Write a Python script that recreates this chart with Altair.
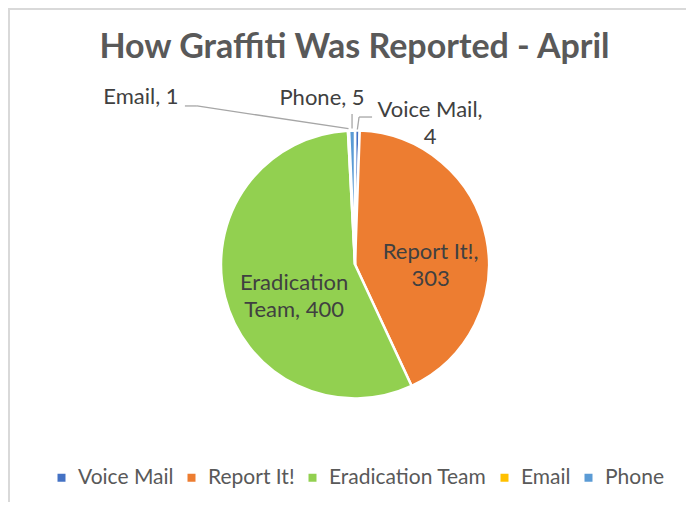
import altair as alt
import pandas as pd

categories = ["Voice Mail", "Report It!", "Eradication Team", "Email", "Phone"]
counts = [4, 303, 400, 1, 5]
labels = ["Voice Mail,\n4", "Report It!,\n303", "Eradication\nTeam, 400", "Email, 1", "Phone, 5"]
colors = ["#4472C4", "#ED7D31", "#92D050", "#FFC000", "#5B9BD5"]
title_text = "How Graffiti Was Reported - April"

W, H = 678, 494
CX, CY, R = 347, 256.5, 134
FONT = "Lato"
TXT = "#595959"
LBL = "#404040"
LINE = "#A6A6A6"
FS = 22
LH = 27

df = pd.DataFrame({"category": categories, "count": counts, "label": labels,
                   "idx": list(range(len(categories)))})

color = alt.Color(
    "category:N",
    scale=alt.Scale(domain=categories, range=colors),
    legend=alt.Legend(orient="none", legendX=43, legendY=459, direction="horizontal",
                      columns=5, title=None, symbolType="square", symbolSize=64,
                      symbolStrokeWidth=0, labelFont=FONT, labelFontSize=21,
                      labelColor=TXT, columnPadding=7, labelOffset=6, labelLimit=400),
)

pie = alt.Chart(df).mark_arc(outerRadius=R, stroke="white", strokeWidth=2.5).encode(
    theta=alt.Theta("count:Q", stack=True),
    order=alt.Order("idx:Q"),
    color=color,
    x=alt.value(CX),
    y=alt.value(CY),
)

geo = (
    alt.Chart(df)
    .transform_window(cum="sum(count)", sort=[alt.SortField("idx")])
    .transform_joinaggregate(total="sum(count)")
    .transform_calculate(
        mid="(datum.cum - datum.count/2) / datum.total * 2 * PI",
    )
    .transform_calculate(
        ex=f"{CX} + {R} * sin(datum.mid)",
        ey=f"{CY} - {R} * cos(datum.mid)",
    )
)

inside = (
    geo.transform_filter(alt.FieldOneOfPredicate(field="category", oneOf=["Report It!", "Eradication Team"]))
    .transform_calculate(tx=f"{CX} + 70 * sin(datum.mid) + 7", ty=f"{CY} - 70 * cos(datum.mid) + 1.5")
    .mark_text(font=FONT, fontSize=FS, color=LBL, lineBreak="\n", lineHeight=LH, baseline="middle")
    .encode(x=alt.X("tx:Q", scale=None, axis=None), y=alt.Y("ty:Q", scale=None, axis=None), text="label:N")
)

outside_offsets = {"Email": (-207.6, -33.7), "Phone": (-30, -32.5), "Voice Mail": (72.7, -21)}
leader_segments = {
    "Email": [(0, -2, -151.6, -24.7), (-151.6, -24.7, -163.6, -24.7)],
    "Phone": [(0, -2, 0, -16.5)],
    "Voice Mail": [(0, -1, 1.7, -13.5), (1.7, -13.5, 14.7, -13.5)],
}

layers = [pie, inside]
for cat, (dx, dy) in outside_offsets.items():
    layers.append(
        geo.transform_filter(alt.datum.category == cat)
        .transform_calculate(tx=f"datum.ex + {dx}", ty=f"datum.ey + {dy}")
        .mark_text(font=FONT, fontSize=FS, color=LBL, lineBreak="\n", lineHeight=LH, baseline="middle")
        .encode(x=alt.X("tx:Q", scale=None, axis=None), y=alt.Y("ty:Q", scale=None, axis=None), text="label:N")
    )
for cat, segs in leader_segments.items():
    for (a, b, c, d) in segs:
        layers.append(
            geo.transform_filter(alt.datum.category == cat)
            .transform_calculate(x1=f"datum.ex + {a}", y1=f"datum.ey + {b}",
                                 x2=f"datum.ex + {c}", y2=f"datum.ey + {d}")
            .mark_rule(color=LINE, strokeWidth=1.3)
            .encode(x=alt.X("x1:Q", scale=None, axis=None), y=alt.Y("y1:Q", scale=None, axis=None),
                    x2="x2:Q", y2="y2:Q")
        )

title = alt.Chart(pd.DataFrame({"t": [title_text]})).mark_text(
    font=FONT, fontWeight="bold", fontSize=34, color=TXT, baseline="middle"
).encode(text="t:N", x=alt.value(346.5), y=alt.value(40))

frame = pd.DataFrame({"a": [0]})
border_left = alt.Chart(frame).mark_rule(color="#D9D9D9", strokeWidth=2).encode(
    x=alt.value(1), y=alt.value(0), y2=alt.value(H))
border_top = alt.Chart(frame).mark_rule(color="#D9D9D9", strokeWidth=2).encode(
    y=alt.value(1), x=alt.value(0), x2=alt.value(W))

chart = (
    alt.layer(border_left, border_top, title, *layers)
    .properties(width=W, height=H, autosize=alt.AutoSizeParams(type="none"), padding=0,
                background="white")
    .configure_view(stroke=None)
)

chart.save("out.html", embed_options={"renderer": "svg", "actions": False})
